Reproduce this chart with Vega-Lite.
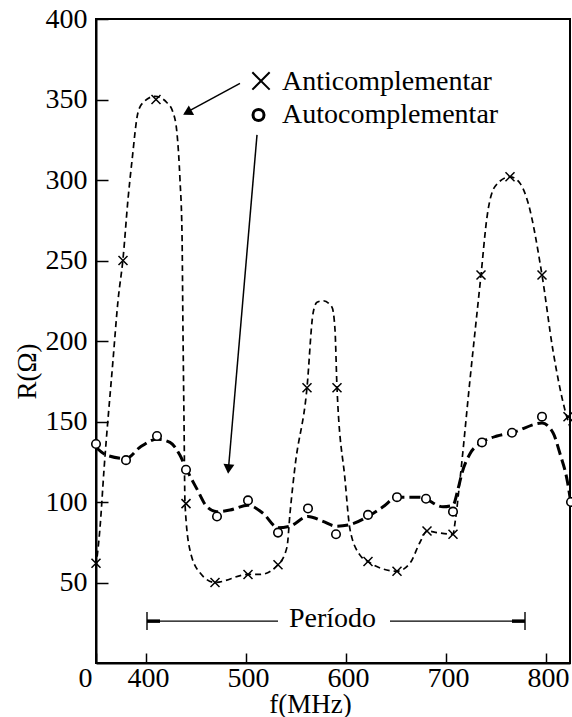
{
  "$schema": "https://vega.github.io/schema/vega-lite/v6.json",
  "width": 474,
  "height": 644,
  "autosize": {"type": "none"},
  "padding": {"left": 96, "top": 19, "right": 2, "bottom": 54},
  "background": "white",
  "config": {
    "font": "Liberation Serif",
    "view": {"stroke": "black", "strokeWidth": 2},
    "axis": {
      "domainColor": "black", "domainWidth": 2,
      "tickColor": "black", "tickWidth": 1.5,
      "labelColor": "black", "titleColor": "black",
      "grid": false,
      "labelFont": "Liberation Serif", "titleFont": "Liberation Serif",
      "labelFontSize": 28, "titleFontSize": 27, "titleFontWeight": "normal"
    }
  },
  "datasets": {
    "antiPts": [
      {"f": 350, "R": 62}, {"f": 377, "R": 250}, {"f": 410, "R": 350}, {"f": 440, "R": 99},
      {"f": 469, "R": 50}, {"f": 502, "R": 55}, {"f": 532, "R": 61}, {"f": 561, "R": 171},
      {"f": 591, "R": 171}, {"f": 622, "R": 63}, {"f": 651, "R": 57}, {"f": 681, "R": 82},
      {"f": 707, "R": 80}, {"f": 735, "R": 241}, {"f": 764, "R": 302}, {"f": 796, "R": 241},
      {"f": 822, "R": 153}
    ],
    "autoPts": [
      {"f": 350, "R": 136}, {"f": 380, "R": 126}, {"f": 411, "R": 141}, {"f": 440, "R": 120},
      {"f": 471, "R": 91}, {"f": 502, "R": 101}, {"f": 532, "R": 81}, {"f": 562, "R": 96},
      {"f": 590, "R": 80}, {"f": 622, "R": 92}, {"f": 651, "R": 103}, {"f": 680, "R": 102},
      {"f": 707, "R": 94}, {"f": 736, "R": 137}, {"f": 766, "R": 143}, {"f": 796, "R": 153},
      {"f": 825, "R": 100}
    ],
    "antiCurve": [
      {"f": 350, "R": 60}, {"f": 354, "R": 84}, {"f": 358, "R": 120}, {"f": 367, "R": 188},
      {"f": 372, "R": 225}, {"f": 377, "R": 251}, {"f": 382, "R": 288}, {"f": 386, "R": 312},
      {"f": 392, "R": 342}, {"f": 397, "R": 348}, {"f": 409, "R": 352}, {"f": 421, "R": 348},
      {"f": 427, "R": 342}, {"f": 431, "R": 329}, {"f": 434, "R": 300}, {"f": 436, "R": 267},
      {"f": 437, "R": 205}, {"f": 438, "R": 151}, {"f": 439, "R": 99}, {"f": 444, "R": 70},
      {"f": 454, "R": 56}, {"f": 469, "R": 50}, {"f": 502, "R": 55}, {"f": 514, "R": 55},
      {"f": 532, "R": 61}, {"f": 541, "R": 72}, {"f": 544, "R": 93}, {"f": 549, "R": 122},
      {"f": 561, "R": 171}, {"f": 567, "R": 217}, {"f": 571, "R": 224}, {"f": 577, "R": 225},
      {"f": 586, "R": 221}, {"f": 589, "R": 207}, {"f": 591, "R": 171}, {"f": 599, "R": 114},
      {"f": 604, "R": 83}, {"f": 614, "R": 67}, {"f": 622, "R": 63}, {"f": 651, "R": 57},
      {"f": 664, "R": 62}, {"f": 674, "R": 75}, {"f": 681, "R": 82}, {"f": 691, "R": 81},
      {"f": 707, "R": 80}, {"f": 709, "R": 87}, {"f": 714, "R": 114}, {"f": 724, "R": 176},
      {"f": 735, "R": 241}, {"f": 741, "R": 277}, {"f": 749, "R": 296}, {"f": 764, "R": 302},
      {"f": 774, "R": 298}, {"f": 782, "R": 286}, {"f": 796, "R": 241}, {"f": 807, "R": 194},
      {"f": 819, "R": 157}, {"f": 826, "R": 143}
    ],
    "autoCurve": [
      {"f": 350, "R": 134}, {"f": 361, "R": 129}, {"f": 380, "R": 127}, {"f": 394, "R": 134},
      {"f": 411, "R": 139}, {"f": 424, "R": 137}, {"f": 434, "R": 129}, {"f": 440, "R": 121},
      {"f": 451, "R": 108}, {"f": 461, "R": 97}, {"f": 471, "R": 94}, {"f": 484, "R": 95},
      {"f": 502, "R": 98}, {"f": 517, "R": 93}, {"f": 532, "R": 84}, {"f": 544, "R": 85},
      {"f": 562, "R": 91}, {"f": 577, "R": 88}, {"f": 590, "R": 85}, {"f": 604, "R": 86},
      {"f": 622, "R": 91}, {"f": 637, "R": 97}, {"f": 651, "R": 103}, {"f": 674, "R": 103},
      {"f": 697, "R": 97}, {"f": 707, "R": 98}, {"f": 712, "R": 108}, {"f": 716, "R": 118},
      {"f": 724, "R": 130}, {"f": 736, "R": 137}, {"f": 751, "R": 141}, {"f": 766, "R": 143},
      {"f": 796, "R": 149}, {"f": 807, "R": 143}, {"f": 814, "R": 130}, {"f": 821, "R": 114},
      {"f": 825, "R": 99}
    ],
    "arrows": [
      {"f": 494, "R": 360, "f2": 439, "R2": 341.5},
      {"f": 511, "R": 328, "f2": 482.5, "R2": 121}
    ],
    "periodLines": [
      {"f": 401, "R": 26, "f2": 532, "R2": 26},
      {"f": 644, "R": 26, "f2": 779, "R2": 26},
      {"f": 401, "R": 20.5, "f2": 401, "R2": 31.7},
      {"f": 779, "R": 20.5, "f2": 779, "R2": 31.7}
    ],
    "periodEnds": [
      {"f": 401, "R": 26, "f2": 414, "R2": 26},
      {"f": 766, "R": 26, "f2": 779, "R2": 26}
    ],
    "legendText": [
      {"f": 536, "R": 356, "label": "Anticomplementar"},
      {"f": 536, "R": 335.5, "label": "Autocomplementar"}
    ]
  },
  "encoding": {
    "x": {
      "field": "f", "type": "quantitative",
      "scale": {"domain": [350, 824], "nice": false, "zero": false},
      "axis": {
        "values": [350, 400, 500, 600, 700, 800],
        "format": "d",
        "labelExpr": "datum.value == 350 ? '0' : datum.label",
        "labelOffset": {"condition": {"test": "datum.value == 350", "value": -11}, "value": 2},
        "tickSize": -10,
        "labelPadding": 11,
        "labelFlush": false,
        "labelOverlap": false,
        "title": "f(MHz)",
        "titleX": 214,
        "titleY": 49,
        "titleAlign": "center",
        "titleBaseline": "alphabetic"
      }
    },
    "y": {
      "field": "R", "type": "quantitative",
      "scale": {"domain": [0, 400], "nice": false},
      "axis": {
        "values": [50, 100, 150, 200, 250, 300, 350, 400],
        "tickSize": -12,
        "labelPadding": 21,
        "labelFlush": false,
        "labelOverlap": false,
        "title": "R(Ω)",
        "titleAngle": -90,
        "titleX": -69,
        "titleY": 352,
        "titleAlign": "center",
        "titleBaseline": "middle"
      }
    }
  },
  "layer": [
    {
      "data": {"name": "antiCurve"},
      "mark": {"type": "line", "interpolate": "monotone", "stroke": "black", "strokeWidth": 1.7, "strokeDash": [6, 4], "clip": true}
    },
    {
      "data": {"name": "autoCurve"},
      "mark": {"type": "line", "interpolate": "monotone", "stroke": "black", "strokeWidth": 3, "strokeDash": [11, 5], "clip": true}
    },
    {
      "data": {"name": "antiPts"},
      "mark": {"type": "point", "shape": "M-1,-1L1,1M1,-1L-1,1", "size": 81, "filled": false, "stroke": "black", "strokeWidth": 1.5, "opacity": 1}
    },
    {
      "data": {"name": "autoPts"},
      "mark": {"type": "point", "shape": "circle", "size": 72, "filled": true, "fill": "white", "stroke": "black", "strokeWidth": 1.6, "opacity": 1}
    },
    {
      "data": {"name": "arrows"},
      "mark": {"type": "rule", "stroke": "black", "strokeWidth": 1.5},
      "encoding": {"x2": {"field": "f2"}, "y2": {"field": "R2"}}
    },
    {
      "data": {"values": [{"f": 441.3, "R": 341.9}]},
      "mark": {"type": "point", "shape": "triangle-up", "size": 120, "filled": true, "fill": "black", "strokeWidth": 0, "opacity": 1, "angle": 241}
    },
    {
      "data": {"values": [{"f": 482.5, "R": 120.5}]},
      "mark": {"type": "point", "shape": "triangle-up", "size": 120, "filled": true, "fill": "black", "strokeWidth": 0, "opacity": 1, "angle": 185}
    },
    {
      "data": {"name": "periodLines"},
      "mark": {"type": "rule", "stroke": "black", "strokeWidth": 1.4},
      "encoding": {"x2": {"field": "f2"}, "y2": {"field": "R2"}}
    },
    {
      "data": {"name": "periodEnds"},
      "mark": {"type": "rule", "stroke": "black", "strokeWidth": 3.5},
      "encoding": {"x2": {"field": "f2"}, "y2": {"field": "R2"}}
    },
    {
      "data": {"values": [{"f": 586.5, "R": 22.4, "label": "Período"}]},
      "mark": {"type": "text", "align": "center", "baseline": "alphabetic", "font": "Liberation Serif", "fontSize": 28, "color": "black"},
      "encoding": {"text": {"field": "label"}}
    },
    {
      "data": {"values": [{"f": 515, "R": 361.5}]},
      "mark": {"type": "point", "shape": "M-1,-1L1,1M1,-1L-1,1", "size": 300, "filled": false, "stroke": "black", "strokeWidth": 2, "opacity": 1}
    },
    {
      "data": {"values": [{"f": 512.5, "R": 340.4}]},
      "mark": {"type": "point", "shape": "circle", "size": 121, "filled": true, "fill": "white", "stroke": "black", "strokeWidth": 3, "opacity": 1}
    },
    {
      "data": {"name": "legendText"},
      "mark": {"type": "text", "align": "left", "baseline": "alphabetic", "font": "Liberation Serif", "fontSize": 28, "color": "black"},
      "encoding": {"text": {"field": "label"}}
    }
  ]
}
